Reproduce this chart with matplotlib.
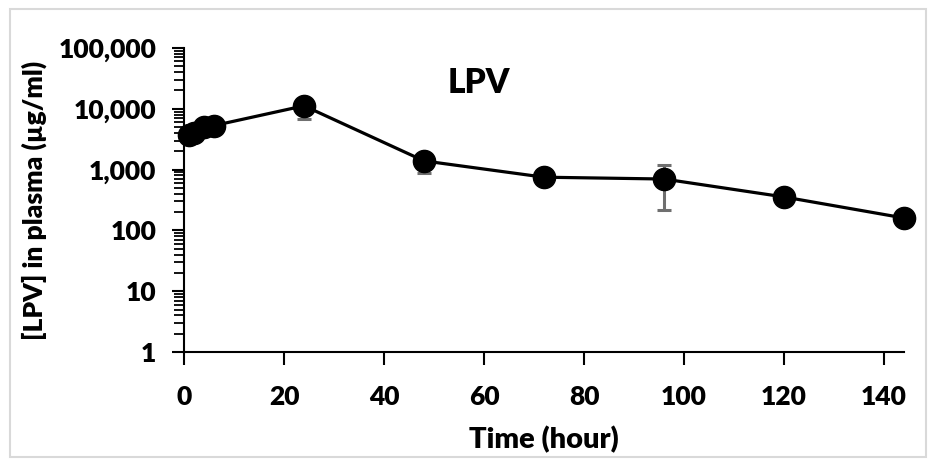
import numpy as np
import matplotlib.pyplot as plt
import matplotlib.ticker as mticker
from matplotlib.patches import Rectangle

# data
time_h = [1, 2, 4, 6, 24, 48, 72, 96, 120, 144]
conc = [3700, 4000, 5000, 5300, 11200, 1390, 750, 700, 355, 160]
err_lo = [0, 0, 0, 0, 4400, 510, 0, 483, 0, 0]
err_hi = [0, 0, 0, 0, 0, 0, 0, 500, 0, 0]

x_ticks = [0, 20, 40, 60, 80, 100, 120, 140]
y_ticks = [1, 10, 100, 1000, 10000, 100000]

W = 'heavy'
plt.rcParams['font.family'] = ['Lato', 'DejaVu Sans']
plt.rcParams['font.weight'] = W

fig = plt.figure(figsize=(9.36, 4.66), dpi=100)
fig.patches.append(Rectangle((10 / 936, 9 / 466), 916 / 936, 448 / 466,
                             transform=fig.transFigure, fill=False,
                             edgecolor='#d9d9d9', lw=1.5))
ax = fig.add_axes([184 / 936, 1 - 352 / 466, 720 / 936, 304 / 466])

ax.errorbar(time_h, conc, yerr=[err_lo, err_hi], fmt='none', ecolor='#6f6f6f',
            elinewidth=2.2, capsize=5, capthick=2.2, zorder=2)
ax.plot(time_h, conc, color='black', lw=2.3, marker='o', markersize=16,
        zorder=3, clip_on=False)

ax.set_yscale('log')
ax.set_ylim(1, 100000)
ax.set_xlim(0, 144)
ax.set_xticks(x_ticks)
ax.set_yticks(y_ticks)
ax.yaxis.set_major_formatter(mticker.FuncFormatter(lambda v, p: f'{int(round(v)):,}'))
ax.yaxis.set_minor_locator(mticker.LogLocator(base=10, subs=np.arange(2, 10), numticks=50))
ax.yaxis.set_minor_formatter(mticker.NullFormatter())

for s in ['top', 'right']:
    ax.spines[s].set_visible(False)
ax.spines['left'].set_linewidth(1.5)
ax.spines['bottom'].set_linewidth(1.5)

ax.tick_params(axis='both', which='major', direction='out', length=9, width=1.5,
               labelsize=19, colors='black')
ax.tick_params(axis='y', which='minor', direction='out', length=7, width=1.3)
ax.tick_params(axis='x', pad=15)
ax.tick_params(axis='y', pad=11)
for lab in ax.get_xticklabels() + ax.get_yticklabels():
    lab.set_fontweight(W)

ax.set_xlabel('Time (hour)', fontsize=21, fontweight=W, labelpad=12)
ax.set_ylabel('[LPV] in plasma (µg/ml)', fontsize=19, fontweight=W, labelpad=8)
ax.text(0.41, 0.885, 'LPV', transform=ax.transAxes, fontsize=24,
        fontweight=W, ha='center', va='center')

fig.savefig('out.png', dpi=100)
